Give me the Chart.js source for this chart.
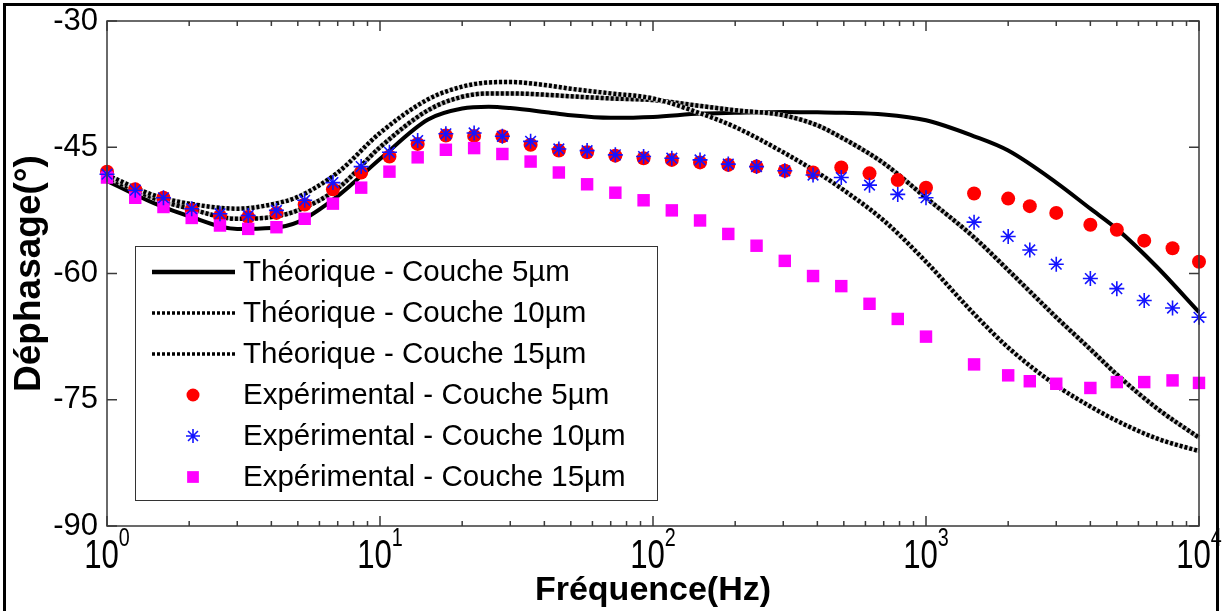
<!DOCTYPE html>
<html>
<head>
<meta charset="utf-8">
<title>Déphasage</title>
<script src="https://cdn.jsdelivr.net/npm/chart.js@4.4.0/dist/chart.umd.min.js"></script>
<style>
  html, body { margin: 0; padding: 0; background: #fff; }
  #wrap { position: relative; width: 1222px; height: 611px; overflow: hidden; }
  #frame { position: absolute; left: 3px; top: 3px; width: 1210px; height: 640px; border: 3px solid #000; pointer-events: none; }
</style>
</head>
<body>
<div id="wrap">
  <canvas id="phaseChart" width="1222" height="611"></canvas>
  <div id="frame"></div>
</div>
<script>
// --- values ---
// measured frequencies (Hz)
const freqExp = [1, 1.269, 1.610, 2.043, 2.593, 3.290, 4.175, 5.298, 6.723, 8.532,
  10.83, 13.74, 17.43, 22.12, 28.07, 35.62, 45.20, 57.36, 72.79, 92.37,
  117.2, 148.7, 188.7, 239.5, 303.9, 385.7, 489.4, 621.0, 788.0, 1000,
  1500, 2000, 2400, 3000, 4000, 5000, 6300, 8000, 10000];
const exp5 = [-47.9, -50.0, -51.0, -52.45, -53.2, -53.3, -52.8, -51.8, -50.0, -48.0,
  -46.1, -44.6, -43.6, -43.65, -43.7, -44.7, -45.4, -45.6, -46.0, -46.3,
  -46.5, -46.8, -47.1, -47.3, -47.8, -48.0, -47.4, -48.1, -48.9, -49.8,
  -50.5, -51.1, -52.0, -52.8, -54.2, -54.8, -56.1, -57.0, -58.6];
const exp10 = [-48.2, -50.1, -51.0, -52.3, -52.9, -53.1, -52.5, -51.3, -49.2, -47.3,
  -45.6, -44.2, -43.4, -43.3, -43.7, -44.3, -45.2, -45.4, -45.9, -46.1,
  -46.3, -46.5, -47.0, -47.3, -47.8, -48.3, -48.6, -49.5, -50.6, -51.0,
  -53.9, -55.6, -57.2, -58.9, -60.6, -61.8, -63.2, -64.1, -65.2];
const exp15 = [-48.6, -51.0, -52.1, -53.4, -54.3, -54.7, -54.5, -53.5, -51.7, -49.8,
  -47.9, -46.2, -45.3, -45.1, -45.8, -46.7, -48.0, -49.4, -50.4, -51.3,
  -52.5, -53.7, -55.3, -56.7, -58.5, -60.3, -61.5, -63.6, -65.4, -67.5,
  -70.8, -72.1, -72.8, -73.1, -73.6, -72.9, -72.9, -72.7, -73.0];

// theoretical curves
const freqTheo = [1, 1.5, 2, 3, 4, 5, 7, 10, 15, 20, 25, 30, 40, 50, 70, 100,
  150, 200, 300, 400, 500, 700, 1000, 1500, 2000, 3000, 4000, 5000, 7000, 10000];
const theo5 = [-49.0, -51.7, -53.2, -54.7, -54.6, -53.9, -50.8, -46.4, -41.7, -40.4,
  -40.2, -40.35, -40.8, -41.2, -41.5, -41.4, -41.0, -40.9, -40.8, -40.85,
  -40.9, -41.1, -41.8, -43.7, -45.4, -49.2, -52.3, -54.7, -59.2, -64.6];
const theo10 = [-48.6, -51.1, -52.3, -53.5, -53.3, -52.5, -49.9, -45.0, -40.6, -39.0,
  -38.6, -38.6, -38.75, -38.95, -39.2, -39.4, -40.1, -40.6, -41.2, -42.4,
  -44.0, -46.9, -51.0, -55.7, -59.6, -65.2, -69.0, -72.0, -76.0, -79.5];
const theo15 = [-48.3, -50.75, -51.7, -52.3, -51.8, -50.9, -48.0, -43.3, -39.3, -37.8,
  -37.3, -37.25, -37.6, -38.05, -38.6, -39.2, -41.0, -42.6, -45.6, -48.0,
  -50.1, -53.7, -58.6, -64.8, -68.8, -73.3, -75.8, -77.5, -79.6, -81.1];

// axis ticks
const yTicks = [-90, -75, -60, -45, -30];
const decades = [1, 10, 100, 1000, 10000];
const decadeExps = ['0', '1', '2', '3', '4'];
const minorSteps = [1, 2, 3, 4, 5, 6, 7, 8, 9];

const FONT = '"Liberation Sans", Arial, Helvetica, sans-serif';
Chart.defaults.font.family = FONT;
Chart.defaults.color = '#000';

const toPoints = (xs, ys) => xs.map((f, i) => ({ x: f, y: ys[i] }));

function lineSet(label, ys, opts) {
    return Object.assign({
        label: label,
        data: toPoints(freqTheo, ys),
        showLine: true,
        borderColor: '#000',
        borderWidth: 4,
        borderCapStyle: 'butt',
        pointRadius: 0,
        pointHoverRadius: 0,
        cubicInterpolationMode: 'monotone',
        clip: false
    }, opts);
}

function markerSet(label, ys, opts) {
    return Object.assign({
        label: label,
        data: toPoints(freqExp, ys),
        showLine: false,
        clip: false
    }, opts);
}

const datasets = [
    lineSet('Théorique - Couche 5µm', theo5, { order: 20 }),
    lineSet('Théorique - Couche 10µm', theo10, { borderDash: [3, 2], borderWidth: 4.5, order: 16 }),
    lineSet('Théorique - Couche 15µm', theo15, { borderDash: [3, 2], borderWidth: 4.5, order: 14 }),
    markerSet('Expérimental - Couche 5µm', exp5, {
        pointStyle: 'circle', pointRadius: 7, pointBackgroundColor: '#ff0000',
        pointBorderColor: '#ff0000', pointBorderWidth: 0, order: 3
    }),
    markerSet('Expérimental - Couche 10µm', exp10, {
        pointStyle: 'star', pointRadius: 7.5, pointBackgroundColor: '#1414ff',
        pointBorderColor: '#1414ff', pointBorderWidth: 1.6, order: 1
    }),
    markerSet('Expérimental - Couche 15µm', exp15, {
        pointStyle: 'rect', pointRadius: 8.8, pointBackgroundColor: '#ff00ff',
        pointBorderColor: '#ff00ff', pointBorderWidth: 0, order: 2
    }),
    // grey cores under the dotted lines (not in legend)
    lineSet('', theo10, { borderColor: '#b8b8b8', borderWidth: 4.5, order: 17, inLegend: false }),
    lineSet('', theo15, { borderColor: '#d8d8d8', borderWidth: 4.5, order: 15, inLegend: false })
];

// --- box, inside ticks and decade labels ---
const boxTicks = {
    id: 'boxTicks',
    afterDatasetsDraw(chart) {
        const { ctx, chartArea: a, scales: { x, y } } = chart;
        ctx.save();
        ctx.strokeStyle = '#3a3a3a';
        ctx.lineWidth = 1.5;
        ctx.beginPath();
        decades.forEach(d => {
            minorSteps.forEach(m => {
                const v = d * m;
                if (v > 10000) return;
                const px = x.getPixelForValue(v);
                const len = m === 1 ? 10 : 5;
                ctx.moveTo(px, a.bottom); ctx.lineTo(px, a.bottom - len);
                ctx.moveTo(px, a.top); ctx.lineTo(px, a.top + len);
            });
        });
        yTicks.forEach(v => {
            const py = y.getPixelForValue(v);
            ctx.moveTo(a.left, py); ctx.lineTo(a.left + 10, py);
            ctx.moveTo(a.right, py); ctx.lineTo(a.right - 10, py);
        });
        ctx.stroke();
        ctx.strokeRect(a.left, a.top, a.right - a.left, a.bottom - a.top);

        // 10^n labels, a bit condensed like the original export
        ctx.fillStyle = '#000';
        ctx.textAlign = 'left';
        ctx.textBaseline = 'alphabetic';
        decades.forEach((d, i) => {
            const px = x.getPixelForValue(d);
            ctx.save();
            ctx.translate(px, 0);
            ctx.scale(0.76, 1);
            ctx.font = '41px ' + FONT;
            const wBase = ctx.measureText('10').width;
            ctx.font = '26px ' + FONT;
            const wExp = ctx.measureText(decadeExps[i]).width;
            const start = -(wBase + wExp) / 2;
            ctx.font = '41px ' + FONT;
            ctx.fillText('10', start, a.bottom + 42);
            ctx.font = '26px ' + FONT;
            ctx.fillText(decadeExps[i], start + wBase, a.bottom + 20);
            ctx.restore();
        });
        ctx.restore();
    }
};

// --- legend drawn inside the plot area ---
function drawMarker(ctx, ds, cx, cy) {
    const opts = { pointStyle: ds.pointStyle, radius: ds.pointRadius - 0.5, borderWidth: ds.pointBorderWidth, rotation: 0 };
    ctx.fillStyle = ds.pointBackgroundColor;
    ctx.strokeStyle = ds.pointBorderColor;
    ctx.lineWidth = ds.pointBorderWidth || 1;
    if (Chart.helpers && Chart.helpers.drawPoint) {
        Chart.helpers.drawPoint(ctx, opts, cx, cy);
    }
}

const insideLegend = {
    id: 'insideLegend',
    afterDraw(chart) {
        const { ctx, chartArea: a } = chart;
        const bx = a.left + 28, by = a.top + 225, bw = 522, bh = 254;
        ctx.save();
        ctx.fillStyle = '#fff';
        ctx.fillRect(bx, by, bw, bh);
        ctx.strokeStyle = '#333';
        ctx.lineWidth = 1;
        ctx.strokeRect(bx + 0.5, by + 0.5, bw, bh);
        ctx.font = '29.5px ' + FONT;
        ctx.textBaseline = 'middle';
        ctx.textAlign = 'left';
        const items = chart.data.datasets.filter(ds => ds.inLegend !== false);
        items.forEach((ds, i) => {
            const cy = by + 26 + i * 41;
            if (ds.showLine) {
                ctx.save();
                ctx.strokeStyle = '#000';
                ctx.lineWidth = ds.borderDash ? 3.5 : 4.5;
                ctx.setLineDash(ds.borderDash || []);
                ctx.beginPath();
                ctx.moveTo(bx + 17, cy);
                ctx.lineTo(bx + 100, cy);
                ctx.stroke();
                ctx.restore();
            } else {
                ctx.save();
                drawMarker(ctx, ds, bx + 58, cy);
                ctx.restore();
            }
            ctx.fillStyle = '#000';
            ctx.fillText(ds.label, bx + 108, cy + 1);
        });
        ctx.restore();
    }
};

const phaseChart = new Chart(document.getElementById('phaseChart'), {
    type: 'scatter',
    data: { datasets: datasets },
    options: {
        responsive: false,
        animation: false,
        events: [],
        layout: { padding: { left: 0, right: 23, top: 21, bottom: 0 } },
        scales: {
            x: {
                type: 'logarithmic',
                min: 1,
                max: 10000,
                ticks: { display: false },
                grid: { display: false, drawTicks: false },
                border: { display: false },
                title: {
                    display: true,
                    text: 'Fréquence(Hz)',
                    font: { size: 34, weight: 'bold' },
                    color: '#000',
                    padding: { top: 0, bottom: 0 }
                },
                afterFit: s => { s.height = 85; s.paddingLeft = 0; s.paddingRight = 0; }
            },
            y: {
                type: 'linear',
                min: -90,
                max: -30,
                afterBuildTicks: s => { s.ticks = yTicks.map(v => ({ value: v })); },
                ticks: { font: { size: 31 }, color: '#000', padding: 9 },
                grid: { display: false, drawTicks: false },
                border: { display: false },
                title: {
                    display: true,
                    text: 'Déphasage(°)',
                    font: { size: 37, weight: 'bold' },
                    color: '#000',
                    padding: { top: 8, bottom: 0 }
                },
                afterFit: s => { s.width = 107; s.paddingTop = 0; s.paddingBottom = 0; }
            }
        },
        plugins: {
            legend: { display: false },
            tooltip: { enabled: false }
        }
    },
    plugins: [boxTicks, insideLegend]
});
</script>
</body>
</html>
